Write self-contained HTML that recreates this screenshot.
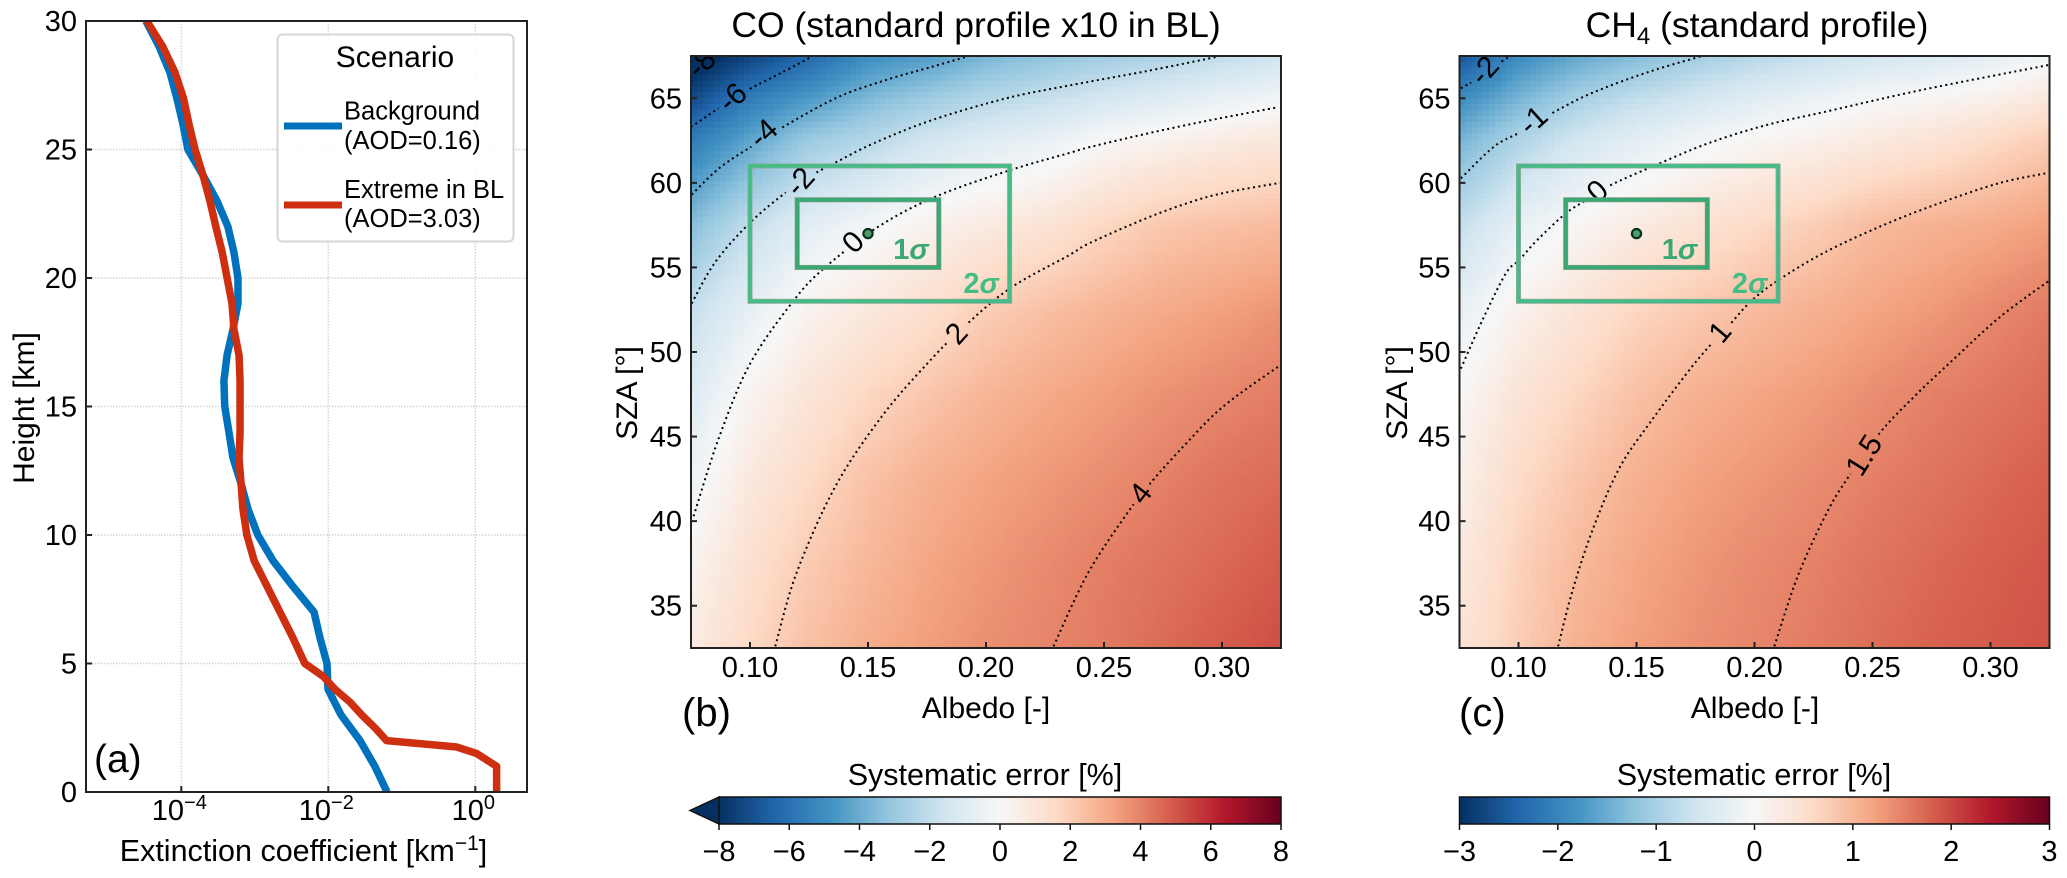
<!DOCTYPE html>
<html lang="en">
<head>
<meta charset="utf-8">
<title>Extinction profile and systematic error maps</title>
<style>
html,body{margin:0;padding:0;background:#fff;}
svg{display:block;}
text{font-family:"Liberation Sans",Arial,sans-serif;fill:#000;}
</style>
</head>
<body>
<svg id="chart" xmlns="http://www.w3.org/2000/svg" width="2067" height="878" viewBox="0 0 2067 878">
  <defs id="defs"></defs>
  <g id="panel-a-layer"></g>
  <g id="panel-b-layer"></g>
  <g id="panel-c-layer"></g>

  <text transform="translate(34,408) rotate(-90)" text-anchor="middle" font-size="30">Height [km]</text>
  <text x="303.5" y="861" text-anchor="middle" font-size="30.5">Extinction coefficient [km<tspan dy="-11" font-size="21">−1</tspan><tspan dy="11">]</tspan></text>
  <text x="94" y="772" font-size="39">(a)</text>

  <g>
    <rect x="277.5" y="34.5" width="236" height="207" rx="5" fill="#fff" fill-opacity="0.85" stroke="#d6d6d6" stroke-width="2"/>
    <text x="395" y="67" text-anchor="middle" font-size="30">Scenario</text>
    <line x1="284" x2="342" y1="126" y2="126" stroke="#0072bd" stroke-width="7"/>
    <text x="344" y="119.5" font-size="25.5">Background</text>
    <text x="344" y="149" font-size="25.5">(AOD=0.16)</text>
    <line x1="284" x2="342" y1="205" y2="205" stroke="#cd2f10" stroke-width="7"/>
    <text x="344" y="198" font-size="25.5">Extreme in BL</text>
    <text x="344" y="227" font-size="25.5">(AOD=3.03)</text>
  </g>

  <text x="976" y="37" text-anchor="middle" font-size="35.5">CO (standard profile x10 in BL)</text>
  <text transform="translate(637,393) rotate(-90)" text-anchor="middle" font-size="30">SZA [°]</text>
  <text x="986" y="718" text-anchor="middle" font-size="30">Albedo [-]</text>
  <text x="682" y="726" font-size="40">(b)</text>
  <text x="985" y="785" text-anchor="middle" font-size="30.5">Systematic error [%]</text>

  <text x="1757" y="37" text-anchor="middle" font-size="35.5">CH<tspan dy="7" font-size="24">4</tspan><tspan dy="-7"> (standard profile)</tspan></text>
  <text transform="translate(1407,393) rotate(-90)" text-anchor="middle" font-size="30">SZA [°]</text>
  <text x="1755" y="718" text-anchor="middle" font-size="30">Albedo [-]</text>
  <text x="1459" y="726" font-size="40">(c)</text>
  <text x="1754" y="785" text-anchor="middle" font-size="30.5">Systematic error [%]</text>
</svg>

<script>
// ---------- Panel (a) data ----------
const backgroundHeights = [30,29,28,27,26,25,24,23,22,21,20,19,18,17,16,15,14,13,12,11,10,9,8,7,6,5,4,3,2,1,0];
const backgroundExtinction = [3.3e-5,5.0e-5,7.0e-5,8.7e-5,1.05e-4,1.23e-4,1.97e-4,3.06e-4,4.3e-4,5.2e-4,5.9e-4,5.9e-4,5.05e-4,4.2e-4,3.8e-4,3.9e-4,4.45e-4,5.05e-4,6.5e-4,8.1e-4,1.1e-3,1.77e-3,3.3e-3,6.4e-3,7.7e-3,9.6e-3,9.9e-3,1.49e-2,2.7e-2,4.3e-2,6.3e-2];
const extremeHeights = [30,29,28,27,26,25,24,23,22,21,20,19,18,17,16,15,14,13,12,11,10,9,8,7,6,5,4.5,4,3.5,3,2.5,2,1.75,1.5,1,0];
const extremeExtinction = [3.4e-5,5.6e-5,8.2e-5,1.07e-4,1.27e-4,1.54e-4,1.97e-4,2.45e-4,2.95e-4,3.6e-4,4.2e-4,4.9e-4,5.2e-4,6.1e-4,6.3e-4,6.3e-4,6.3e-4,6.1e-4,6.5e-4,6.9e-4,7.8e-4,9.8e-4,1.47e-3,2.2e-3,3.3e-3,4.8e-3,8.5e-3,1.23e-2,1.97e-2,2.85e-2,4.3e-2,6.2e-2,0.56,1.04,1.95,1.95];
const extinctionTickExponents = [-4,-2,0];
const heightTicks = [0,5,10,15,20,25,30];

// ---------- Panels (b) and (c) shared axes ----------
const albedoGrid = [0.075,0.10,0.125,0.15,0.175,0.20,0.225,0.25,0.275,0.30,0.325];
const szaGrid = [32.5,37.5,42.5,47.5,52.5,57.5,62.5,65,67.5];
const albedoTicks = [0.10,0.15,0.20,0.25,0.30];
const szaTicks = [35,40,45,50,55,60,65];
const sigmaBoxOne = [0.12,0.18,55,59];
const sigmaBoxTwo = [0.10,0.21,53,61];
const truthPoint = [0.15,57];

// ---------- Panel (b) CO field, rows by SZA, columns by albedo ----------
const coErrorGrid = [
  [0.7,1.65,2.4,2.95,3.35,3.7,3.95,4.2,4.55,4.9,5.2],
  [0.25,1.3,2.1,2.65,3.15,3.5,3.8,4.1,4.35,4.6,4.9],
  [-0.4,0.85,1.6,2.35,2.85,3.2,3.5,3.75,4.05,4.35,4.55],
  [-1.1,0.25,1.05,1.7,2.25,2.7,3.05,3.35,3.65,3.9,4.15],
  [-1.9,-0.7,0.35,0.85,1.35,2.0,2.4,2.75,3.05,3.3,3.6],
  [-3.4,-1.95,-0.85,-0.2,0.35,0.75,1.15,1.7,2.2,2.4,2.55],
  [-5.6,-4.2,-2.9,-2.3,-1.5,-0.95,-0.6,0.05,0.35,0.7,0.95],
  [-7.25,-5.6,-4.6,-3.6,-2.9,-2.3,-1.9,-1.4,-1.0,-0.6,-0.25],
  [-8.6,-7.4,-6.3,-5.0,-4.5,-3.7,-3.2,-2.8,-2.5,-2.0,-1.6]
];
const coContourLabels = ['-8','-6','-4','-2','0','2','4'];
const coContourAlbedo = [
  [0.075,0.0844],
  [0.075,0.0877,0.0992,0.1132,0.1263],
  [0.0753,0.0868,0.10,0.1115,0.1362,0.1576,0.1773,0.1921],
  [0.0753,0.0852,0.10,0.1156,0.1263,0.1362,0.1526,0.1773,0.2086,0.2349,0.2678,0.2983],
  [0.0761,0.0868,0.10,0.1181,0.1313,0.1543,0.1789,0.2102,0.2349,0.2441,0.2678,0.2864,0.3007,0.3237],
  [0.1107,0.1197,0.1362,0.1559,0.175,0.19,0.21,0.2349,0.2441,0.2678,0.2864,0.3007,0.3245],
  [0.2286,0.2431,0.2595,0.2694,0.2842,0.3007,0.3245]
];
const coContourSza = [
  [66.0,67.5],
  [63.3,64.5,65.5,66.5,67.47],
  [59.3,60.85,62.1,63.1,65.0,66.08,66.87,67.47],
  [52.87,55.3,57.64,59.48,60.46,61.2,62.35,63.72,65.0,65.75,66.6,67.46],
  [40.29,44.92,49.3,52.97,54.94,57.4,59.2,60.75,61.75,62.12,62.9,63.46,63.86,64.47],
  [32.6,36.93,42.06,46.2,49.3,51.4,53.75,55.7,56.45,57.9,58.85,59.4,60.0],
  [32.6,36.9,40.4,42.2,44.5,46.8,49.2]
];
const coLabelAlbedo = [0.0792,0.0924,0.1055,0.121,0.1435,0.1873,0.2653];
const coLabelSza = [67.09,65.08,62.95,60.1,56.52,51.12,41.66];
const coLabelAngle = [-45,-42,-42,-48,-45,-48,-52];
const coColorbarTicks = [-8,-6,-4,-2,0,2,4,6,8];

// ---------- Panel (c) CH4 field, rows by SZA, columns by albedo ----------
const ch4ErrorGrid = [
  [0.4,0.75,1.07,1.25,1.38,1.47,1.56,1.68,1.78,1.85,1.92],
  [0.3,0.7,0.98,1.18,1.32,1.43,1.51,1.62,1.72,1.8,1.88],
  [0.17,0.58,0.85,1.07,1.22,1.32,1.42,1.53,1.62,1.72,1.8],
  [0.03,0.4,0.65,0.9,1.07,1.18,1.28,1.4,1.52,1.6,1.7],
  [-0.25,0.15,0.4,0.65,0.8,0.95,1.07,1.19,1.3,1.45,1.57],
  [-0.72,-0.25,0.05,0.27,0.45,0.6,0.75,0.96,1.06,1.13,1.25],
  [-1.4,-0.92,-0.55,-0.3,-0.1,0.06,0.17,0.3,0.42,0.6,0.78],
  [-1.9,-1.4,-1.0,-0.75,-0.55,-0.35,-0.2,-0.02,0.06,0.16,0.35],
  [-2.6,-1.9,-1.55,-1.3,-1.05,-0.85,-0.7,-0.55,-0.45,-0.3,-0.08]
];
const ch4ContourLabels = ['-2','-1','0','1','1.5'];
const ch4ContourAlbedo = [
  [0.0756,0.0806,0.0929,0.0962],
  [0.0756,0.0896,0.1012,0.1127,0.1309,0.1556,0.1771],
  [0.0756,0.0847,0.0946,0.1003,0.1078,0.1201,0.1292,0.1391,0.1573,0.1804,0.2051,0.2299,0.2711,0.3248],
  [0.1168,0.1226,0.1309,0.1424,0.1556,0.1754,0.1894,0.1985,0.2101,0.2299,0.2546,0.2794,0.3041,0.3248],
  [0.2084,0.2183,0.2299,0.2381,0.253,0.2678,0.2843,0.3041,0.3248]
];
const ch4ContourSza = [
  [65.59,66.0,67.18,67.47],
  [60.27,62.14,63.03,64.0,65.3,66.58,67.47],
  [49.02,51.88,54.64,55.43,56.6,58.2,59.02,59.87,61.0,62.34,63.42,64.2,65.5,66.97],
  [32.6,35.75,39.3,43.05,45.8,49.46,51.6,53.0,54.25,55.9,57.5,58.85,60.0,60.6],
  [32.6,36.74,40.29,42.26,45.2,47.38,49.56,52.08,54.21]
];
const ch4LabelAlbedo = [0.0854,0.1061,0.1333,0.1852,0.2462];
const ch4LabelSza = [66.67,63.72,59.54,51.2,43.91];
const ch4LabelAngle = [-48,-42,-42,-50,-58];
const ch4ColorbarTicks = [-3,-2,-1,0,1,2,3];

// ---------- Colour map (diverging red-blue) ----------
const colormapStops = ['#053061','#2166ac','#4393c3','#92c5de','#d1e5f0','#f7f7f7','#fddbc7','#f4a582','#d6604d','#b2182b','#67001f'];

const NS = 'http://www.w3.org/2000/svg';
const chartRoot = document.getElementById('chart');
const defsRoot = document.getElementById('defs');

function svgEl(tag, attrs, parent) {
  const el = document.createElementNS(NS, tag);
  for (const key in attrs) el.setAttribute(key, attrs[key]);
  parent.appendChild(el);
  return el;
}
function hexToRgb(h) {
  return [parseInt(h.slice(1,3),16), parseInt(h.slice(3,5),16), parseInt(h.slice(5,7),16)];
}
function colormap(f) {
  const t = Math.max(0, Math.min(1, f)) * (colormapStops.length - 1);
  const i = Math.min(colormapStops.length - 2, Math.floor(t));
  const u = t - i;
  const a = hexToRgb(colormapStops[i]);
  const b = hexToRgb(colormapStops[i + 1]);
  return 'rgb(' + [0,1,2].map(k => Math.round(a[k] + (b[k] - a[k]) * u)).join(',') + ')';
}
function locate(axis, v) {
  let i = 0;
  while (i < axis.length - 2 && v > axis[i + 1]) i++;
  return [i, (v - axis[i]) / (axis[i + 1] - axis[i])];
}
function sampleGrid(grid, a, s) {
  const [i, u] = locate(albedoGrid, a);
  const [j, v] = locate(szaGrid, s);
  return (grid[j][i] * (1 - u) + grid[j][i + 1] * u) * (1 - v) +
         (grid[j + 1][i] * (1 - u) + grid[j + 1][i + 1] * u) * v;
}
function smoothPath(points) {
  let d = 'M' + points[0][0].toFixed(2) + ' ' + points[0][1].toFixed(2);
  for (let i = 0; i < points.length - 1; i++) {
    const p0 = points[Math.max(0, i - 1)];
    const p1 = points[i];
    const p2 = points[i + 1];
    const p3 = points[Math.min(points.length - 1, i + 2)];
    const c1x = p1[0] + (p2[0] - p0[0]) / 6;
    const c1y = p1[1] + (p2[1] - p0[1]) / 6;
    const c2x = p2[0] - (p3[0] - p1[0]) / 6;
    const c2y = p2[1] - (p3[1] - p1[1]) / 6;
    d += 'C' + [c1x,c1y,c2x,c2y,p2[0],p2[1]].map(n => n.toFixed(2)).join(' ');
  }
  return d;
}

// ---------- Panel (a) ----------
function drawPanelA() {
  const layer = document.getElementById('panel-a-layer');
  const left = 86, right = 527, top = 21, bottom = 792;
  const xAxis = v => 475.3 + Math.log10(v) * 73.5;
  const yAxis = h => bottom - h / 30 * (bottom - top);

  const clip = svgEl('clipPath', {id: 'clip-a'}, defsRoot);
  svgEl('rect', {x: left, y: top, width: right - left, height: bottom - top}, clip);

  extinctionTickExponents.forEach(function (exp) {
    const x = xAxis(Math.pow(10, exp));
    const grid = svgEl('line', {x1: x, x2: x, y1: top, y2: bottom, stroke: '#d4d4d4', 'stroke-width': 1.5, 'stroke-dasharray': '1.5 1.5'}, layer);
    
    
  });
  heightTicks.forEach(function (h) {
    const y = yAxis(h);
    const grid = svgEl('line', {x1: left, x2: right, y1: y, y2: y, stroke: '#d4d4d4', 'stroke-width': 1.5, 'stroke-dasharray': '1.5 1.5'}, layer);
    
    
  });

  const seriesGroup = svgEl('g', {'clip-path': 'url(#clip-a)'}, layer);
  
  

  const bgPoints = backgroundHeights.map((h, i) => xAxis(backgroundExtinction[i]).toFixed(2) + ',' + yAxis(h).toFixed(2)).join(' ');
  const bgLine = svgEl('polyline', {points: bgPoints, fill: 'none', stroke: '#0072bd', 'stroke-width': 7.5, 'stroke-linejoin': 'round'}, seriesGroup);
  
  

  const exPoints = extremeHeights.map((h, i) => xAxis(extremeExtinction[i]).toFixed(2) + ',' + yAxis(h).toFixed(2)).join(' ');
  const exLine = svgEl('polyline', {points: exPoints, fill: 'none', stroke: '#cd2f10', 'stroke-width': 7.5, 'stroke-linejoin': 'round'}, seriesGroup);
  
  

  const frame = svgEl('rect', {x: left, y: top, width: right - left, height: bottom - top, fill: 'none', stroke: '#222', 'stroke-width': 2}, layer);
  
  

  extinctionTickExponents.forEach(function (exp) {
    const x = xAxis(Math.pow(10, exp));
    const tick = svgEl('line', {x1: x, x2: x, y1: bottom, y2: bottom - 6, stroke: '#222', 'stroke-width': 2}, layer);
    
    
    const label = svgEl('text', {x: x - 2, y: 820, 'text-anchor': 'middle', 'font-size': 29}, layer);
    
    
    label.appendChild(document.createTextNode('10'));
    const sup = svgEl('tspan', {dy: -11, 'font-size': 20}, label);
    sup.textContent = String(exp).replace('-', '−');
  });
  heightTicks.forEach(function (h) {
    const y = yAxis(h);
    const tick = svgEl('line', {x1: left, x2: left + 6, y1: y, y2: y, stroke: '#222', 'stroke-width': 2}, layer);
    
    
    const label = svgEl('text', {x: 77, y: y + 10, 'text-anchor': 'end', 'font-size': 29}, layer);
    
    
    label.textContent = h;
  });
}

// ---------- Panels (b), (c) ----------
function drawErrorPanel(layerId, left, grid, vmax, levels, contourA, contourS, labelA, labelS, labelAngle) {
  const layer = document.getElementById(layerId);
  const width = 590, top = 56, bottom = 648;
  const xAxis = a => left + (a - 0.075) / 0.25 * width;
  const yAxis = s => bottom - (s - 32.5) / 35 * (bottom - top);

  const clip = svgEl('clipPath', {id: layerId + '-clip'}, defsRoot);
  svgEl('rect', {x: left, y: top, width: width, height: bottom - top}, clip);

  const heat = svgEl('g', {'shape-rendering': 'crispEdges'}, layer);
  
  
  const cols = 100, rows = 100;
  for (let j = 0; j < rows; j++) {
    for (let i = 0; i < cols; i++) {
      const a = 0.075 + (i + 0.5) / cols * 0.25;
      const s = 32.5 + (j + 0.5) / rows * 35;
      const value = sampleGrid(grid, a, s);
      const x0 = xAxis(0.075 + i / cols * 0.25);
      const y0 = yAxis(32.5 + (j + 1) / rows * 35);
      const cell = svgEl('rect', {x: x0.toFixed(2), y: y0.toFixed(2), width: (width / cols + 0.7).toFixed(2), height: ((bottom - top) / rows + 0.7).toFixed(2), fill: colormap(0.5 + value / (2 * vmax))}, heat);
      
      
    }
  }

  const mask = svgEl('mask', {id: layerId + '-mask', maskUnits: 'userSpaceOnUse', x: 0, y: 0, width: 2067, height: 878}, defsRoot);
  svgEl('rect', {x: 0, y: 0, width: 2067, height: 878, fill: '#fff'}, mask);
  levels.forEach(function (txt, i) {
    svgEl('circle', {cx: xAxis(labelA[i]), cy: yAxis(labelS[i]), r: 8 + 5 * txt.length, fill: '#000'}, mask);
  });

  const clipGroup = svgEl('g', {'clip-path': 'url(#' + layerId + '-clip)'}, layer);
  
  
  const lineGroup = svgEl('g', {mask: 'url(#' + layerId + '-mask)'}, clipGroup);
  
  

  contourA.forEach(function (arr, i) {
    const pts = arr.map((a, k) => [xAxis(a), yAxis(contourS[i][k])]);
    const path = svgEl('path', {d: smoothPath(pts), fill: 'none', stroke: '#000', 'stroke-width': 2, 'stroke-dasharray': '2 3.4'}, lineGroup);
    
    
  });
  levels.forEach(function (txt, i) {
    const x = xAxis(labelA[i]);
    const y = yAxis(labelS[i]);
    const label = svgEl('text', {transform: 'translate(' + x.toFixed(1) + ',' + y.toFixed(1) + ') rotate(' + labelAngle[i] + ')', 'text-anchor': 'middle', y: 10.5, 'font-size': 30}, clipGroup);
    
    
    label.textContent = txt;
  });

  const outer = svgEl('g', {}, layer);
  
  
  const ox = xAxis(sigmaBoxTwo[0]), ow = xAxis(sigmaBoxTwo[1]) - ox, oy = yAxis(sigmaBoxTwo[3]), oh = yAxis(sigmaBoxTwo[2]) - oy;
  svgEl('rect', {x: ox, y: oy, width: ow, height: oh, fill: 'none', stroke: '#9aa8a0', 'stroke-width': 5}, outer);
  svgEl('rect', {x: ox, y: oy, width: ow, height: oh, fill: 'none', stroke: '#43bd85', 'stroke-width': 3.6}, outer);

  const inner = svgEl('g', {}, layer);
  
  
  const ix = xAxis(sigmaBoxOne[0]), iw = xAxis(sigmaBoxOne[1]) - ix, iy = yAxis(sigmaBoxOne[3]), ih = yAxis(sigmaBoxOne[2]) - iy;
  svgEl('rect', {x: ix, y: iy, width: iw, height: ih, fill: 'none', stroke: '#8a9a90', 'stroke-width': 5}, inner);
  svgEl('rect', {x: ix, y: iy, width: iw, height: ih, fill: 'none', stroke: '#39a872', 'stroke-width': 3.8}, inner);

  const dot = svgEl('circle', {cx: xAxis(truthPoint[0]), cy: yAxis(truthPoint[1]), r: 4.6, fill: '#4d9a6d', stroke: '#06331b', 'stroke-width': 2.2}, layer);
  
  

  const oneLabel = svgEl('text', {x: xAxis(0.1682), y: yAxis(56.15) + 11, 'text-anchor': 'middle', 'font-size': 29, 'font-weight': 'bold', style: 'fill:#39a872'}, layer);
  
  
  oneLabel.textContent = '1';
  const oneSigma = svgEl('tspan', {'font-style': 'italic'}, oneLabel);
  oneSigma.textContent = 'σ';

  const twoLabel = svgEl('text', {x: xAxis(0.1979), y: yAxis(54.14) + 11, 'text-anchor': 'middle', 'font-size': 29, 'font-weight': 'bold', style: 'fill:#43bd85'}, layer);
  
  
  twoLabel.textContent = '2';
  const twoSigma = svgEl('tspan', {'font-style': 'italic'}, twoLabel);
  twoSigma.textContent = 'σ';

  const frame = svgEl('rect', {x: left, y: top, width: width, height: bottom - top, fill: 'none', stroke: '#222', 'stroke-width': 2}, layer);
  
  

  albedoTicks.forEach(function (t) {
    const x = xAxis(t);
    const tick = svgEl('line', {x1: x, x2: x, y1: bottom, y2: bottom - 6, stroke: '#222', 'stroke-width': 2}, layer);
    
    
    const label = svgEl('text', {x: x, y: 677, 'text-anchor': 'middle', 'font-size': 29}, layer);
    
    
    label.textContent = t.toFixed(2);
  });
  szaTicks.forEach(function (t) {
    const y = yAxis(t);
    const tick = svgEl('line', {x1: left, x2: left + 6, y1: y, y2: y, stroke: '#222', 'stroke-width': 2}, layer);
    
    
    const label = svgEl('text', {x: left - 9, y: y + 10, 'text-anchor': 'end', 'font-size': 29}, layer);
    
    
    label.textContent = t;
  });
}

// ---------- Colour bars ----------
function drawColorbar(layerId, left, right, ticks, hasExtension) {
  const layer = document.getElementById(layerId);
  const top = 797, bottom = 824;
  const vmax = ticks[ticks.length - 1];
  const xAxis = v => left + (v + vmax) / (2 * vmax) * (right - left);

  const gradient = svgEl('linearGradient', {id: layerId + '-gradient', x1: 0, x2: 1, y1: 0, y2: 0}, defsRoot);
  colormapStops.forEach(function (c, i) {
    svgEl('stop', {offset: i / (colormapStops.length - 1), 'stop-color': c}, gradient);
  });
  const bar = svgEl('rect', {x: left, y: top, width: right - left, height: bottom - top, fill: 'url(#' + layerId + '-gradient)', stroke: '#111', 'stroke-width': 1.5}, layer);
  
  

  if (hasExtension) {
    const arrow = svgEl('polygon', {points: left + ',' + top + ' ' + (left - 29) + ',' + ((top + bottom) / 2) + ' ' + left + ',' + bottom, fill: colormapStops[0], stroke: '#111', 'stroke-width': 1.5}, layer);
    
    
  }
  ticks.forEach(function (t) {
    const x = xAxis(t);
    const tick = svgEl('line', {x1: x, x2: x, y1: bottom, y2: bottom + 6, stroke: '#111', 'stroke-width': 1.5}, layer);
    
    
    const label = svgEl('text', {x: x, y: 861, 'text-anchor': 'middle', 'font-size': 29}, layer);
    
    
    label.textContent = String(t).replace('-', '−');
  });
}

drawPanelA();
drawErrorPanel('panel-b-layer', 691, coErrorGrid, 8, coContourLabels, coContourAlbedo, coContourSza, coLabelAlbedo, coLabelSza, coLabelAngle);
drawErrorPanel('panel-c-layer', 1459.5, ch4ErrorGrid, 3, ch4ContourLabels, ch4ContourAlbedo, ch4ContourSza, ch4LabelAlbedo, ch4LabelSza, ch4LabelAngle);
drawColorbar('panel-b-layer', 719, 1281, coColorbarTicks, true);
drawColorbar('panel-c-layer', 1459.5, 2049.5, ch4ColorbarTicks, false);
</script>
</body>
</html>
